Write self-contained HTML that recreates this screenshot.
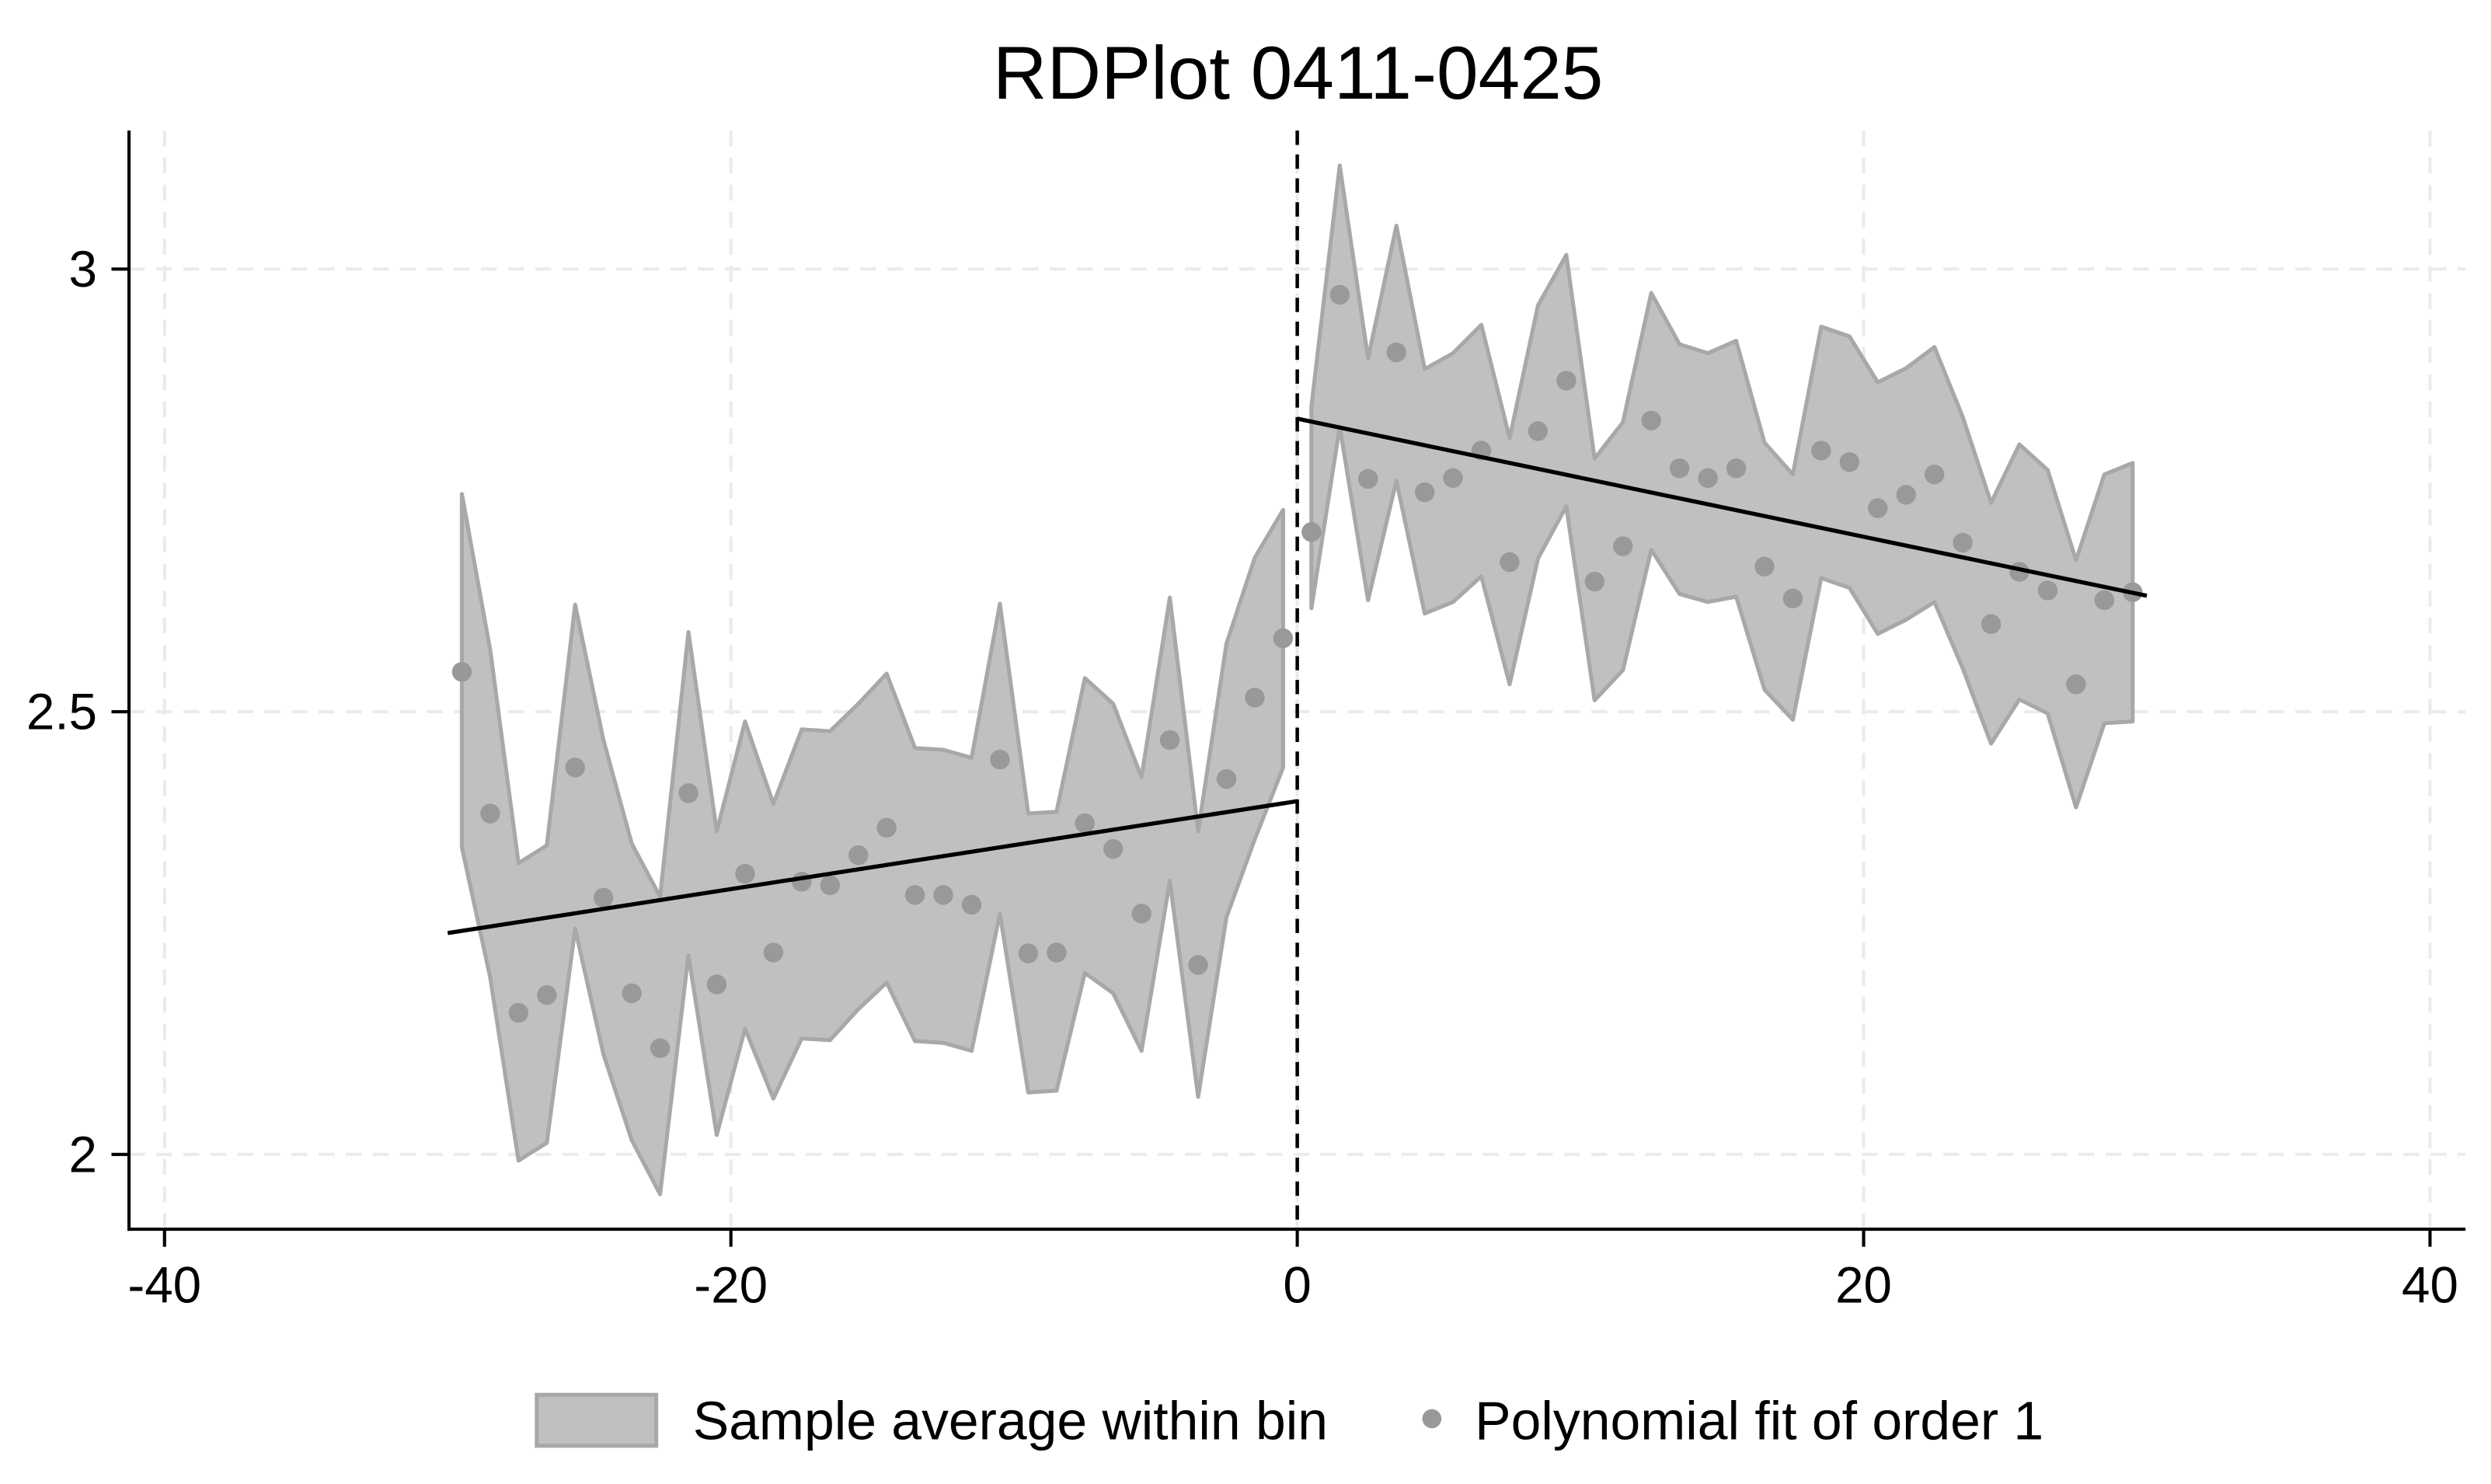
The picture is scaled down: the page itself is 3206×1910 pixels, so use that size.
<!DOCTYPE html>
<html><head><meta charset="utf-8"><style>
html,body{margin:0;padding:0;background:#fff;}
svg{display:block;font-family:"Liberation Sans",sans-serif;}
</style></head><body>
<svg id="chart" width="3206" height="1910" viewBox="0 0 1564 932" preserveAspectRatio="none" xmlns="http://www.w3.org/2000/svg">
<rect width="1564" height="932" fill="#fff"/>
<text x="815" y="62" font-size="47" text-anchor="middle" fill="#000">RDPlot 0411-0425</text>
<g id="grid"></g>
<g id="bands"></g>
<g id="dots"></g>
<g id="fits"></g>
<g id="axes"></g>
<g>
<rect x="337" y="876" width="75" height="32" fill="#c0c0c0" stroke="#a8a8a8" stroke-width="2.5"/>
<text x="435" y="904" font-size="34" fill="#000">Sample average within bin</text>
<circle cx="899" cy="891" r="6" fill="#999"/>
<text x="926" y="904" font-size="34" fill="#000">Polynomial fit of order 1</text>
</g>
</svg>
<script>
const binsLeft = [-29.5,-28.5,-27.5,-26.5,-25.5,-24.5,-23.5,-22.5,-21.5,-20.5,-19.5,-18.5,-17.5,-16.5,-15.5,-14.5,-13.5,-12.5,-11.5,-10.5,-9.5,-8.5,-7.5,-6.5,-5.5,-4.5,-3.5,-2.5,-1.5,-0.5];
const meanLeft = [2.545,2.385,2.16,2.18,2.437,2.29,2.182,2.12,2.408,2.192,2.317,2.228,2.308,2.304,2.338,2.369,2.293,2.293,2.282,2.446,2.227,2.228,2.374,2.345,2.272,2.468,2.214,2.424,2.516,2.583];
const upperLeft = [2.746,2.570,2.329,2.349,2.621,2.468,2.351,2.291,2.59,2.365,2.489,2.396,2.48,2.478,2.509,2.543,2.459,2.457,2.448,2.622,2.385,2.387,2.538,2.509,2.426,2.629,2.365,2.577,2.674,2.728];
const lowerLeft = [2.347,2.20,1.993,2.013,2.255,2.113,2.016,1.955,2.225,2.022,2.142,2.063,2.131,2.129,2.164,2.194,2.128,2.126,2.117,2.272,2.07,2.072,2.205,2.182,2.117,2.309,2.065,2.268,2.356,2.437];
const binsRight = [0.5,1.5,2.5,3.5,4.5,5.5,6.5,7.5,8.5,9.5,10.5,11.5,12.5,13.5,14.5,15.5,16.5,17.5,18.5,19.5,20.5,21.5,22.5,23.5,24.5,25.5,26.5,27.5,28.5,29.5];
const meanRight = [2.703,2.971,2.763,2.906,2.748,2.764,2.795,2.669,2.817,2.874,2.647,2.687,2.829,2.775,2.764,2.775,2.664,2.628,2.795,2.782,2.73,2.745,2.768,2.691,2.599,2.658,2.637,2.531,2.626,2.635];
const upperRight = [2.845,3.117,2.899,3.049,2.887,2.905,2.937,2.809,2.959,3.016,2.786,2.827,2.973,2.915,2.905,2.919,2.804,2.768,2.935,2.924,2.872,2.888,2.912,2.833,2.736,2.802,2.773,2.671,2.768,2.781];
const lowerRight = [2.617,2.822,2.626,2.761,2.611,2.624,2.653,2.531,2.673,2.732,2.513,2.547,2.683,2.633,2.624,2.63,2.525,2.491,2.651,2.640,2.588,2.604,2.624,2.549,2.464,2.514,2.498,2.392,2.487,2.489];
const fitLeftX = [-30,0];
const fitLeftY = [2.25,2.399];
const fitRightX = [0,30];
const fitRightY = [2.831,2.631];
const xTicks = [-40,-20,0,20,40];
const xTickLabels = ["-40","-20","0","20","40"];
const yTicks = [2,2.5,3];
const yTickLabels = ["2","2.5","3"];

const NS="http://www.w3.org/2000/svg";
function X(v){return 814.5+v*17.78;}
function Y(v){return 725-(v-2)*556;}
function mk(tag,attrs,parent){const e=document.createElementNS(NS,tag);for(const k in attrs)e.setAttribute(k,attrs[k]);document.getElementById(parent).appendChild(e);return e;}

xTicks.forEach((t,i)=>{const l=mk('line',{x1:X(t),x2:X(t),y1:82,y2:772,stroke:'#ebebeb','stroke-width':2,'stroke-dasharray':'10,7'},'grid');

});
yTicks.forEach((t,i)=>{const l=mk('line',{x1:81,x2:1548,y1:Y(t),y2:Y(t),stroke:'#ebebeb','stroke-width':2,'stroke-dasharray':'10,7'},'grid');

});

function band(xs,up,lo,name){
  let pts=xs.map((x,i)=>X(x)+','+Y(up[i]));
  for(let i=xs.length-1;i>=0;i--)pts.push(X(xs[i])+','+Y(lo[i]));
  const p=mk('polygon',{points:pts.join(' '),fill:'#c0c0c0',stroke:'#a8a8a8','stroke-width':2.5,'stroke-linejoin':'round'},'bands');
  
  
}
band(binsLeft,upperLeft,lowerLeft,'ci-band-left');
band(binsRight,upperRight,lowerRight,'ci-band-right');

function dots(xs,ys,name){xs.forEach((x,i)=>{const c=mk('circle',{cx:X(x),cy:Y(ys[i]),r:6.2,fill:'#999'},'dots');

});}
dots(binsLeft,meanLeft,'bin-mean-left');
dots(binsRight,meanRight,'bin-mean-right');

function fit(xs,ys,name){const l=mk('line',{x1:X(xs[0]),y1:Y(ys[0]),x2:X(xs[1]),y2:Y(ys[1]),stroke:'#000','stroke-width':2.6},'fits');

}
fit(fitLeftX,fitLeftY,'fit-line-left');
fit(fitRightX,fitRightY,'fit-line-right');

const cut=mk('line',{x1:X(0),x2:X(0),y1:82,y2:772,stroke:'#000','stroke-width':2.2,'stroke-dasharray':'9,6'},'axes');



const ya=mk('line',{x1:81,x2:81,y1:82,y2:773,stroke:'#000','stroke-width':2},'axes');


const xa=mk('line',{x1:80,x2:1548,y1:772,y2:772,stroke:'#000','stroke-width':2},'axes');


xTicks.forEach((t,i)=>{
  const l=mk('line',{x1:X(t),x2:X(t),y1:772,y2:783,stroke:'#000','stroke-width':2},'axes');
  
  
  const tx=mk('text',{x:X(t),y:818,'font-size':32,'text-anchor':'middle',fill:'#000'},'axes');
  tx.textContent=xTickLabels[i];
  
  
});
yTicks.forEach((t,i)=>{
  const l=mk('line',{x1:70,x2:81,y1:Y(t),y2:Y(t),stroke:'#000','stroke-width':2},'axes');
  
  
  const tx=mk('text',{x:61,y:Y(t)+11,'font-size':32,'text-anchor':'end',fill:'#000'},'axes');
  tx.textContent=yTickLabels[i];
  
  
});
</script>
</body></html>
